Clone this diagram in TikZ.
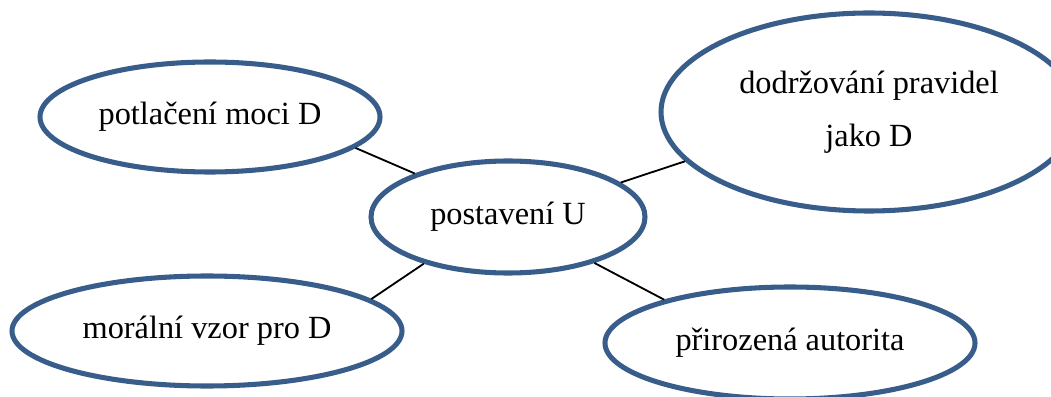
\documentclass[tikz,border=0pt]{standalone}
\usepackage{fontspec}
\setmainfont{Liberation Serif}
\usetikzlibrary{shapes.geometric}
\definecolor{bubbleblue}{RGB}{56,93,138}

\begin{document}
\begin{tikzpicture}[
	bubble/.style={ellipse, draw=bubbleblue, line width=3.6pt, inner sep=0pt,
		align=center, font=\fontsize{23}{38}\selectfont},
	link/.style={line width=1.3pt}]
	\useasboundingbox (0,0) rectangle (26.275,9.9);

	\node[bubble, minimum width=6.85cm, minimum height=2.8cm] (postaveni) at (12.7,4.475) {postavení U};

	\node[bubble, minimum width=8.5cm, minimum height=2.75cm] (moc) at (5.25,6.975) {potlačení moci D};
	\node[bubble, minimum width=10.4cm, minimum height=4.95cm] (pravidla) at (21.725,7.1) {dodržování pravidel\\jako D};
	\node[bubble, minimum width=9.75cm, minimum height=2.75cm] (vzor) at (5.175,1.625) {morální vzor pro D};
	\node[bubble, minimum width=9.25cm, minimum height=2.8cm] (autorita) at (19.75,1.325) {přirozená autorita};

	\draw[link] (moc.-12) -- (postaveni.155);
	\draw[link] (postaveni.17) -- (pravidla.-165);
	\draw[link] (postaveni.-151) -- (vzor.11);
	\draw[link] (postaveni.-28) -- (autorita.161);
\end{tikzpicture}
\end{document}
